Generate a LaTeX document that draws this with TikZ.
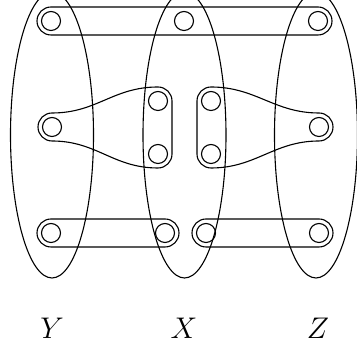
\documentclass[tikz,border=0pt]{standalone}
\usepackage{amsmath,amssymb}
\usepackage{tikz}
\usetikzlibrary{shapes.geometric,calc}

\begin{document}
\begin{tikzpicture}[x=1pt,y=1pt,line width=1.1pt,
    vert/.style={circle,draw,inner sep=0pt,minimum size=19pt},
    part/.style={ellipse,draw,inner sep=0pt,minimum width=83pt,minimum height=286pt},
    lab/.style={font=\Huge,scale=1.2}]
        \useasboundingbox (0,0) rectangle (357,347);
        % the three sets
        \node[part] (Yset) at (52,212) {};
        \node[part] (Xset) at (184.5,212) {};
        \node[part] (Zset) at (316,212) {};
        % vertices
        \node[vert] (yt) at (51,326) {};
        \node[vert] (xt) at (184,326) {};
        \node[vert] (zt) at (318,326) {};
        \node[vert] (ym) at (52,220) {};
        \node[vert] (xa) at (158,246) {};
        \node[vert] (xb) at (158,193) {};
        \node[vert] (xc) at (211,246) {};
        \node[vert] (xd) at (211,193) {};
        \node[vert] (zm) at (319,220) {};
        \node[vert] (yb) at (51,114) {};
        \node[vert] (xl) at (165,114) {};
        \node[vert] (xr) at (206,114) {};
        \node[vert] (zb) at (319,114) {};
        % edges
        \draw[rounded corners=14pt] ($(yt)+(-14,-14)$) rectangle ($(zt)+(14,14)$);
        \draw[rounded corners=14pt] ($(yb)+(-14,-14)$) rectangle ($(xl)+(14,14)$);
        \draw[rounded corners=14pt] ($(xr)+(-14,-14)$) rectangle ($(zb)+(14,14)$);
        \draw ($(ym)+(0,14)$) .. controls +(45,0) and +(-45,0) .. ($(xa)+(0,14)$)
            arc[start angle=90,end angle=0,radius=14] -- ($(xb)+(14,0)$)
            arc[start angle=0,end angle=-90,radius=14]
            .. controls +(-45,0) and +(45,0) .. ($(ym)+(0,-14)$)
            arc[start angle=270,end angle=90,radius=14] -- cycle;
        \draw ($(xc)+(0,14)$) .. controls +(45,0) and +(-45,0) .. ($(zm)+(0,14)$)
            arc[start angle=90,end angle=-90,radius=14]
            .. controls +(-45,0) and +(45,0) .. ($(xd)+(0,-14)$)
            arc[start angle=270,end angle=180,radius=14] -- ($(xc)+(-14,0)$)
            arc[start angle=180,end angle=90,radius=14] -- cycle;
        % labels
        \node[lab] (lY) at (52,19) {$Y$};
        \node[lab] (lX) at (184,19) {$X$};
        \node[lab] (lZ) at (318,19) {$Z$};
      \end{tikzpicture}
\end{document}
